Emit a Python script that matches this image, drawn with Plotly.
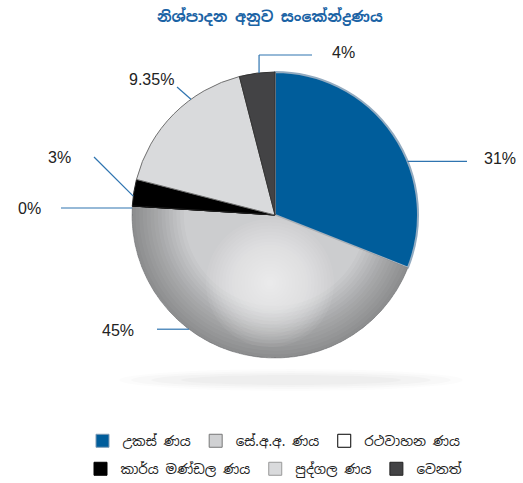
import math
import plotly.graph_objects as go

# ---- data ----
categories = ["උකස් ණය", "සේ.අ.අ. ණය", "රථවාහන ණය", "කාර්ය මණ්ඩල ණය", "පුද්ගල ණය", "වෙනත්"]
values = [31, 45, 0, 3, 17, 4]
value_labels = ["31%", "45%", "0%", "3%", "9.35%", "4%"]
title_text = "නිශ්පාදන අනුව සංකේන්ද්‍රණය"

# ---- style ----
colors = ["#005d9b", "#cccdcf", "#ffffff", "#000000", "#d9dadc", "#434345"]
line_colors = ["#93abc0", "#b0b1b3", "#000000", "#222222", "#707070", "#333333"]
line_widths = [2, 1, 1, 1, 1, 1]
legend_colors = ["#005d9b", "#d0d1d3", "#ffffff", "#000000", "#d9dadc", "#434345"]
legend_lines = ["#7f9bb5", "#777777", "#000000", "#000000", "#999999", "#222222"]
SIN_FONT = "Noto Sans Sinhala, Iskoola Pota, Noto Sans, sans-serif"

W, H = 523, 483
ML, MR, MT, MB = 0, 0, 0, 0
PW, PH = W - ML - MR, H - MT - MB
CX, CY, R = 275, 215, 143  # pie geometry in px

def px(x):
    return (x - ML) / PW

def py(y):
    return 1 - (y - MT) / PH

pie_domain = dict(x=[px(CX - R), px(CX + R)], y=[py(CY + R), py(CY - R)])

fig = go.Figure()
fig.add_trace(go.Pie(
    labels=categories,
    values=values,
    sort=False,
    direction="clockwise",
    rotation=0,
    textinfo="none",
    hoverinfo="label+percent",
    marker=dict(colors=colors, line=dict(color=line_colors, width=line_widths)),
    domain=pie_domain,
    showlegend=False,
))

# rim shading on the large grey slice (transparent donut overlays)
shade = ["rgba(0,0,0,0)"] * len(values)
shade[1] = "rgba(0,0,0,0.022)"
for j in range(14):
    fig.add_trace(go.Pie(
        labels=categories, values=values, sort=False, direction="clockwise", rotation=0,
        hole=0.975 - j * 0.026, textinfo="none", hoverinfo="skip", showlegend=False,
        marker=dict(colors=shade, line=dict(width=0)), domain=pie_domain,
    ))

# legend entries (two rows -> two legends)
for i, cat in enumerate(categories):
    fig.add_trace(go.Scatter(
        x=[None], y=[None], mode="markers", name=cat,
        marker=dict(symbol="square", size=13, color=legend_colors[i],
                    line=dict(color=legend_lines[i], width=1)),
        legend="legend" if i < 3 else "legend2",
        hoverinfo="skip",
    ))

# leader lines: attach angle (deg clockwise from top), extra points, label position
leaders = [
    (68.0, [(467, None)], (482, 158, "left")),
    (217.0, [(157, None)], (118, 330, "center")),
    (272.8, [(61, None)], (29, 208, "center")),
    (277.6, [(94, 157)], (59, 157, "center")),
    (324.0, [(177, 87)], (151, 80, "center")),
    (353.6, [(None, 55), (312, 55)], (330, 53, "left")),
]

shapes = []
# soft shadow under pie
for rx, ry, a in [(172, 11, 0.012), (160, 9, 0.015), (140, 7, 0.018), (110, 5, 0.02)]:
    shapes.append(dict(type="circle", xref="paper", yref="paper", layer="below",
                       x0=px(291 - rx), x1=px(291 + rx), y0=py(380 + ry), y1=py(380 - ry),
                       fillcolor=f"rgba(0,0,0,{a})", line=dict(width=0)))

# radial highlight on the large grey slice
GX, GY, GR, NG = 270, 283, 64, 20
for k in range(NG):
    r = GR * (NG - k) / NG
    shapes.append(dict(type="circle", xref="paper", yref="paper", layer="above",
                       x0=px(GX - r), x1=px(GX + r), y0=py(GY + r), y1=py(GY - r),
                       fillcolor="rgba(255,255,255,0.06)", line=dict(width=0)))

annotations = []
for idx, (ang, pts, (tx, ty, anchor)) in enumerate(leaders):
    x0 = CX + R * math.sin(math.radians(ang))
    y0 = CY - R * math.cos(math.radians(ang))
    path_pts = [(x0, y0)]
    for (qx, qy) in pts:
        lx, ly = path_pts[-1]
        path_pts.append((lx if qx is None else qx, ly if qy is None else qy))
    for (a, b) in zip(path_pts[:-1], path_pts[1:]):
        shapes.append(dict(type="line", xref="paper", yref="paper",
                           x0=px(a[0]), y0=py(a[1]), x1=px(b[0]), y1=py(b[1]),
                           line=dict(color="#2f74b0", width=1.2)))
    annotations.append(dict(text=value_labels[idx], xref="paper", yref="paper",
                            x=px(tx), y=py(ty), xanchor=anchor, yanchor="middle",
                            showarrow=False,
                            font=dict(family="Liberation Sans, Arial, sans-serif", size=16, color="#222222")))

legend_common = dict(orientation="h", xanchor="center", yanchor="middle",
                     font=dict(family=SIN_FONT, size=13.5, color="#222222"),
                     itemclick=False, itemdoubleclick=False, bgcolor="rgba(0,0,0,0)")

fig.update_layout(
    width=W, height=H,
    margin=dict(l=ML, r=MR, t=MT, b=MB, autoexpand=False),
    paper_bgcolor="white", plot_bgcolor="white",
    xaxis=dict(visible=False), yaxis=dict(visible=False),
    title=dict(text="<b>" + title_text + "</b>", x=0.516, xanchor="center", y=0.965, yanchor="middle",
               yref="container",
               font=dict(family=SIN_FONT, size=15, color="#1a63a5")),
    legend=dict(x=px(274), y=py(441), **legend_common),
    legend2=dict(x=px(274), y=py(469), **legend_common),
    shapes=shapes,
    annotations=annotations,
)

fig.write_html("out.html", config={"displayModeBar": False},
               post_script="document.body.style.margin='0';document.body.style.overflow='hidden';")
